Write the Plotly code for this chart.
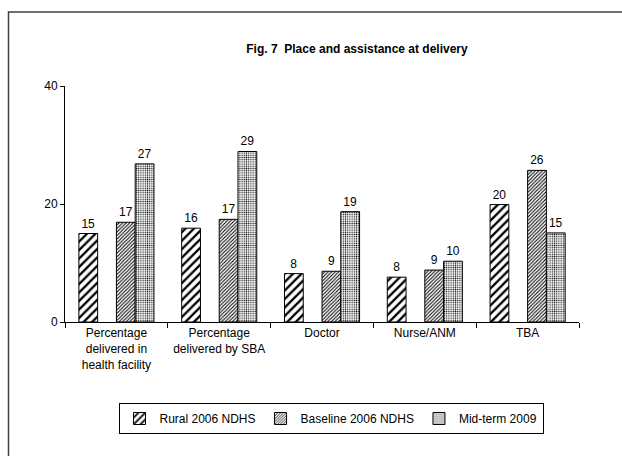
import plotly.graph_objects as go

categories = ["Percentage<br>delivered in<br>health facility", "Percentage<br>delivered by SBA",
              "Doctor", "Nurse/ANM", "TBA"]
series_names = ["Rural 2006 NDHS", "Baseline 2006 NDHS", "Mid-term 2009"]
rural = [15.0, 15.9, 8.2, 7.6, 19.9]
baseline = [16.9, 17.4, 8.6, 8.8, 25.7]
midterm = [26.8, 28.9, 18.7, 10.3, 15.1]
rural_labels = [15, 16, 8, 8, 20]
baseline_labels = [17, 17, 9, 9, 26]
midterm_labels = [27, 29, 19, 10, 15]

W, H = 622, 456
L, R, T, B = 65, 43, 86, 134

bw = 0.1826
start = -0.365
font = "Liberation Sans, Arial, sans-serif"

fig = go.Figure()
specs = [
    (series_names[0], rural, rural_labels, start, dict(shape="/", size=6, solidity=0.38)),
    (series_names[1], baseline, baseline_labels, start + 2 * bw, dict(shape="/", size=2.5, solidity=0.42)),
    (series_names[2], midterm, midterm_labels, start + 3 * bw, dict(shape=".", size=2.2, solidity=0.3)),
]
for name, vals, labs, off, pat in specs:
    fig.add_trace(go.Bar(
        name=name, x=categories, y=vals, width=bw, offset=off,
        text=[str(v) for v in labs], textposition="outside", cliponaxis=False,
        textfont=dict(family=font, size=12, color="black"),
        marker=dict(color="white", line=dict(color="black", width=1),
                    pattern=dict(fgcolor="black", bgcolor="white", fillmode="replace", **pat)),
    ))

plot_w = W - L - R
plot_h = H - T - B
def px2paper_x(px):
    return (px - L) / plot_w
def px2paper_y(py):
    return (H - B - py) / plot_h

fig.add_shape(type="rect", xref="paper", yref="paper",
              x0=px2paper_x(8.5), x1=px2paper_x(700), y0=px2paper_y(12), y1=px2paper_y(520),
              line=dict(color="#404040", width=1.5), fillcolor="rgba(0,0,0,0)", layer="below")

fig.update_layout(
    width=W, height=H, margin=dict(l=L, r=R, t=T, b=B, pad=0),
    paper_bgcolor="white", plot_bgcolor="white",
    barmode="overlay",
    font=dict(family=font, size=12, color="black"),
    title=dict(text="<b>Fig. 7  Place and assistance at delivery</b>", x=357 / W, xanchor="center",
               y=1 - 49 / H, yanchor="middle", xref="container", yref="container",
               font=dict(family=font, size=12, color="black")),
    showlegend=True,
    legend=dict(orientation="h", x=px2paper_x(331), xanchor="center", y=px2paper_y(403), yanchor="top",
                bordercolor="black", borderwidth=1, bgcolor="white",
                font=dict(family=font, size=12, color="black"),
                itemwidth=30, traceorder="normal", tracegroupgap=0),
    xaxis=dict(type="category", showline=True, linecolor="black", linewidth=1,
               ticks="outside", ticklen=5, tickcolor="black", tickson="boundaries",
               showgrid=False, zeroline=False, tickfont=dict(family=font, size=12, color="black")),
    yaxis=dict(range=[0, 40], tickvals=[0, 20, 40], showline=True, linecolor="black", linewidth=1,
               ticks="outside", ticklen=4, tickcolor="black", showgrid=False, zeroline=False,
               tickfont=dict(family=font, size=12, color="black")),
)

fig.write_html("out.html", config={"displayModeBar": False},
               post_script="document.body.style.margin='0';document.body.style.overflow='hidden';")
